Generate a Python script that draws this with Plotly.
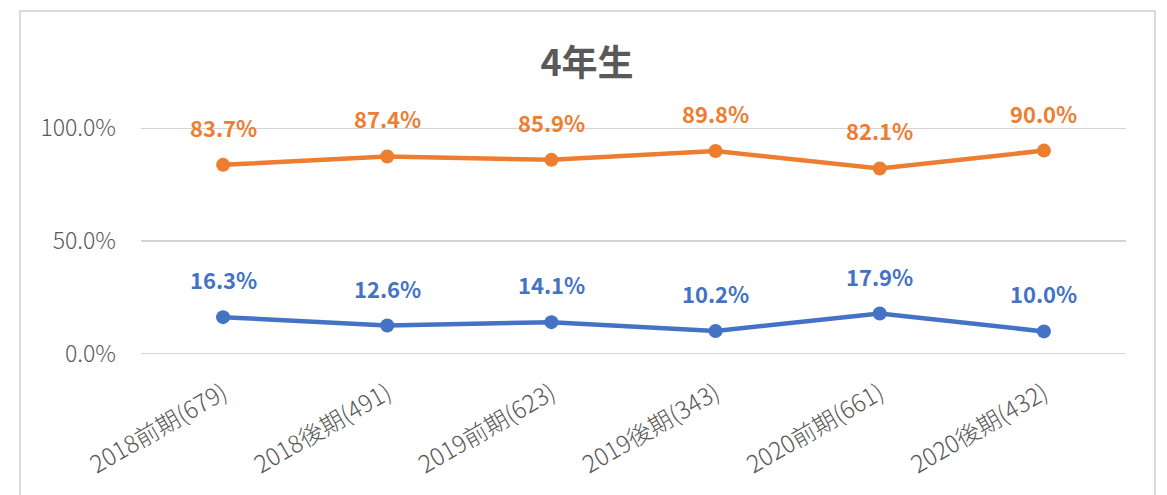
import plotly.graph_objects as go

# Periods (with respondent counts) and percentage shares for each group
categories = ["2018前期(679)", "2018後期(491)", "2019前期(623)",
              "2019後期(343)", "2020前期(661)", "2020後期(432)"]
orange_vals = [83.7, 87.4, 85.9, 89.8, 82.1, 90.0]
blue_vals = [16.3, 12.6, 14.1, 10.2, 17.9, 10.0]
y_ticks = [0, 50, 100]
y_tick_text = ["0.0%", "50.0%", "100.0%"]

ORANGE = "#ED7D31"
BLUE = "#4472C4"
GRAY = "#595959"
FONT = "Noto Sans CJK JP"

W, H = 1167, 495
L, R, T, B = 141, 41, 128, 141
plot_w = W - L - R
plot_h = H - T - B

fig = go.Figure()
x_idx = list(range(len(categories)))
for vals, color in [(orange_vals, ORANGE), (blue_vals, BLUE)]:
    fig.add_trace(go.Scatter(
        x=x_idx, y=vals, mode="lines+markers",
        line=dict(color=color, width=4.5),
        marker=dict(color=color, size=14),
        hoverinfo="skip", showlegend=False, cliponaxis=False,
    ))

annotations = []
for vals, color in [(orange_vals, ORANGE), (blue_vals, BLUE)]:
    for i, v in enumerate(vals):
        annotations.append(dict(
            x=i, y=v, xref="x", yref="y", text=f"{v:.1f}%",
            showarrow=False, yshift=38,
            font=dict(family=FONT, size=22, color=color, weight="bold"),
        ))

# Horizontal gridlines at each y tick (including both range ends)
shapes = [
    dict(type="line", xref="paper", yref="y", x0=0, x1=1, y0=t, y1=t,
         layer="below", line=dict(color="#D4D4D4", width=2))
    for t in y_ticks
]

# Outer chart frame
shapes.append(dict(
    type="rect", xref="paper", yref="paper", layer="below",
    x0=(20 - L) / plot_w, x1=(1155 - L) / plot_w,
    y0=(H - B - 520) / plot_h, y1=(H - B - 11) / plot_h,
    line=dict(color="#D0D0D0", width=1.5), fillcolor="rgba(0,0,0,0)",
))

fig.update_layout(
    width=W, height=H, autosize=False,
    margin=dict(l=L, r=R, t=T, b=B),
    paper_bgcolor="white", plot_bgcolor="white",
    font=dict(family=FONT, color=GRAY),
    title=dict(text="<b>4年生</b>", x=587 / W, xanchor="center",
               y=1 - 63 / H, yanchor="middle", yref="container",
               font=dict(family=FONT, size=36, color=GRAY)),
    xaxis=dict(
        range=[-0.5, len(categories) - 0.5], tickmode="array",
        tickvals=x_idx, ticktext=categories, tickangle=-30,
        showgrid=False, zeroline=False, showline=False, ticks="",
        ticklabelstandoff=20,
        tickfont=dict(family=FONT, size=24, color=GRAY, weight=300),
    ),
    yaxis=dict(
        range=[0, 100], tickmode="array", tickvals=y_ticks,
        ticktext=y_tick_text, showgrid=False, zeroline=False,
        showline=False, ticks="", ticklabelstandoff=24,
        tickfont=dict(family=FONT, size=23, color=GRAY, weight=300),
    ),
    annotations=annotations,
    shapes=shapes,
)

fig.write_html("out.html")
